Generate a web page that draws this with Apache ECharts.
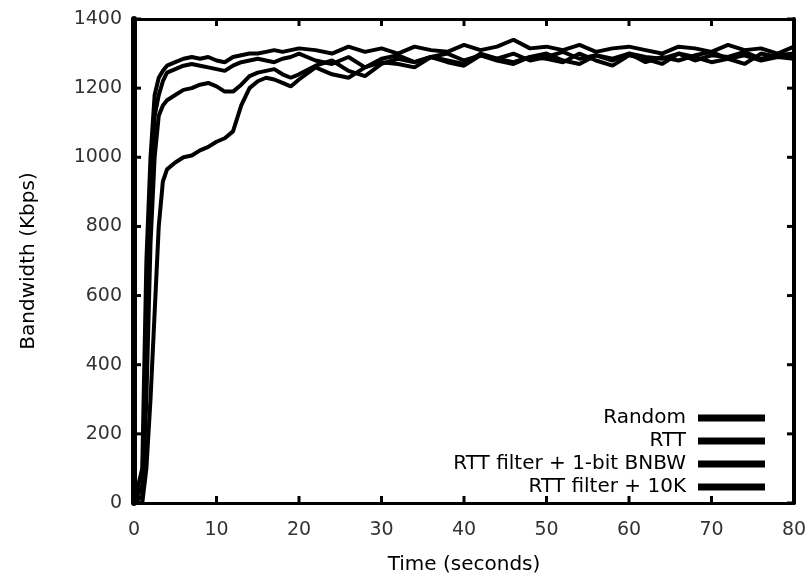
<!DOCTYPE html>
<html>
<head>
<meta charset="utf-8">
<script src="https://cdn.jsdelivr.net/npm/echarts@6/dist/echarts.min.js"></script>
<style>html,body{margin:0;padding:0;background:#fff}#c{width:806px;height:574px}</style>
</head>
<body>
<div id="c"></div>
<script>
const times = [0,1,1.5,2,2.5,3,3.5,4,5,6,7,8,9,10,11,12,13,14,15,16,17,18,19,20,
  22,24,26,28,30,32,34,36,38,40,42,44,46,48,50,52,54,56,58,60,62,64,66,68,70,72,74,76,78,80];
const seriesNames = ["Random","RTT","RTT filter + 1-bit BNBW","RTT filter + 10K"];
const random = [0,100,700,1000,1180,1230,1250,1265,1275,1285,1290,1285,1290,1280,1275,1290,1295,1300,1300,1305,1310,1305,1310,1315,
  1310,1300,1320,1305,1315,1300,1320,1310,1305,1325,1310,1320,1340,1315,1320,1310,1325,1305,1315,1320,1310,1300,1320,1315,1305,1325,1310,1315,1300,1320];
const rtt = [0,50,500,900,1120,1180,1220,1245,1255,1265,1270,1265,1260,1255,1250,1265,1275,1280,1285,1280,1275,1285,1290,1300,
  1280,1270,1290,1260,1285,1295,1275,1290,1300,1280,1295,1285,1300,1280,1290,1305,1285,1295,1280,1300,1290,1285,1300,1280,1295,1290,1305,1285,1295,1300];
const bnbw = [0,20,300,750,1000,1120,1150,1165,1180,1195,1200,1210,1215,1205,1190,1190,1210,1235,1245,1250,1255,1240,1230,1240,
  1265,1280,1250,1235,1270,1285,1275,1290,1280,1270,1300,1285,1275,1290,1300,1280,1270,1295,1285,1300,1275,1290,1280,1295,1305,1285,1270,1300,1290,1295];
const tenK = [0,0,100,300,550,800,930,965,985,1000,1005,1020,1030,1045,1055,1075,1150,1200,1220,1230,1225,1215,1205,1225,
  1260,1240,1230,1260,1275,1270,1260,1290,1275,1265,1295,1280,1270,1290,1285,1275,1300,1280,1265,1295,1285,1270,1300,1290,1275,1285,1295,1280,1290,1285];
const xTickValues = [0,10,20,30,40,50,60,70,80];
const yTickValues = [0,200,400,600,800,1000,1200,1400];
const xTicks = {min:0, max:80, interval:10};
const yTicks = {min:0, max:1400, interval:200};

const allData = [random, rtt, bnbw, tenK];
const font = "'DejaVu Sans',sans-serif";
const chart = echarts.init(document.getElementById('c'), null, {renderer:'canvas'});
const TL = 7;

const series = seriesNames.map((n,i)=>({
  name:n, type:'line', showSymbol:false, symbol:'none',
  lineStyle:{color:'#000', width:4},
  itemStyle:{color:'#000'},
  data: times.map((t,j)=>[t, allData[i][j]])
}));
// inward tick marks on the four sides, placed through the axis scales
function tickSeries(data, size, offset){
  return {type:'scatter', silent:true, z:6, clip:false, symbol:'rect',
    symbolSize:size, symbolOffset:offset, itemStyle:{color:'#000', opacity:1},
    emphasis:{disabled:true}, data:data};
}
series.push(tickSeries(xTickValues.map(v=>[v, yTicks.min]), [3,TL], [0,-TL/2]));
series.push(tickSeries(xTickValues.map(v=>[v, yTicks.max]), [3,TL], [0, TL/2]));
series.push(tickSeries(yTickValues.map(v=>[xTicks.min, v]), [TL,3], [TL/2,0]));
series.push(tickSeries(yTickValues.map(v=>[xTicks.max, v]), [TL,3], [-TL/2,0]));

chart.setOption({
  animation:false,
  backgroundColor:'#fff',
  grid:{left:134, right:12, top:19, bottom:71, containLabel:false, outerBoundsMode:'none'},
  legend:{
    orient:'vertical', right:36, top:403, align:'right', itemGap:3,
    itemWidth:67, itemHeight:7, icon:'rect',
    textStyle:{fontFamily:font, fontSize:20, color:'#000', padding:[0,7,0,0]},
    data:seriesNames
  },
  xAxis:[{
    type:'value', min:xTicks.min, max:xTicks.max, interval:xTicks.interval,
    name:'Time (seconds)', nameLocation:'middle', nameGap:52,
    nameTextStyle:{fontFamily:font, fontSize:20, color:'#000'},
    axisLine:{show:true, onZero:false, lineStyle:{color:'#000', width:3}},
    axisTick:{show:false},
    axisLabel:{fontFamily:font, fontSize:19, color:'#333', margin:18, formatter:v=>String(v)},
    splitLine:{show:false}
  },{
    type:'value', position:'top', min:xTicks.min, max:xTicks.max, interval:xTicks.interval,
    axisLine:{show:true, onZero:false, lineStyle:{color:'#000', width:3}},
    axisTick:{show:false}, axisLabel:{show:false}, splitLine:{show:false}
  }],
  yAxis:[{
    type:'value', min:yTicks.min, max:yTicks.max, interval:yTicks.interval,
    name:'Bandwidth (Kbps)', nameLocation:'middle', nameGap:95, nameRotate:90,
    nameTextStyle:{fontFamily:font, fontSize:20, color:'#000'},
    axisLine:{show:true, onZero:false, lineStyle:{color:'#000', width:6}},
    axisTick:{show:false},
    axisLabel:{fontFamily:font, fontSize:19, color:'#333', margin:12, formatter:v=>String(v)},
    splitLine:{show:false}
  },{
    type:'value', position:'right', min:yTicks.min, max:yTicks.max, interval:yTicks.interval,
    axisLine:{show:true, onZero:false, lineStyle:{color:'#000', width:4}},
    axisTick:{show:false}, axisLabel:{show:false}, splitLine:{show:false}
  }],
  series: series
});
</script>
</body>
</html>
